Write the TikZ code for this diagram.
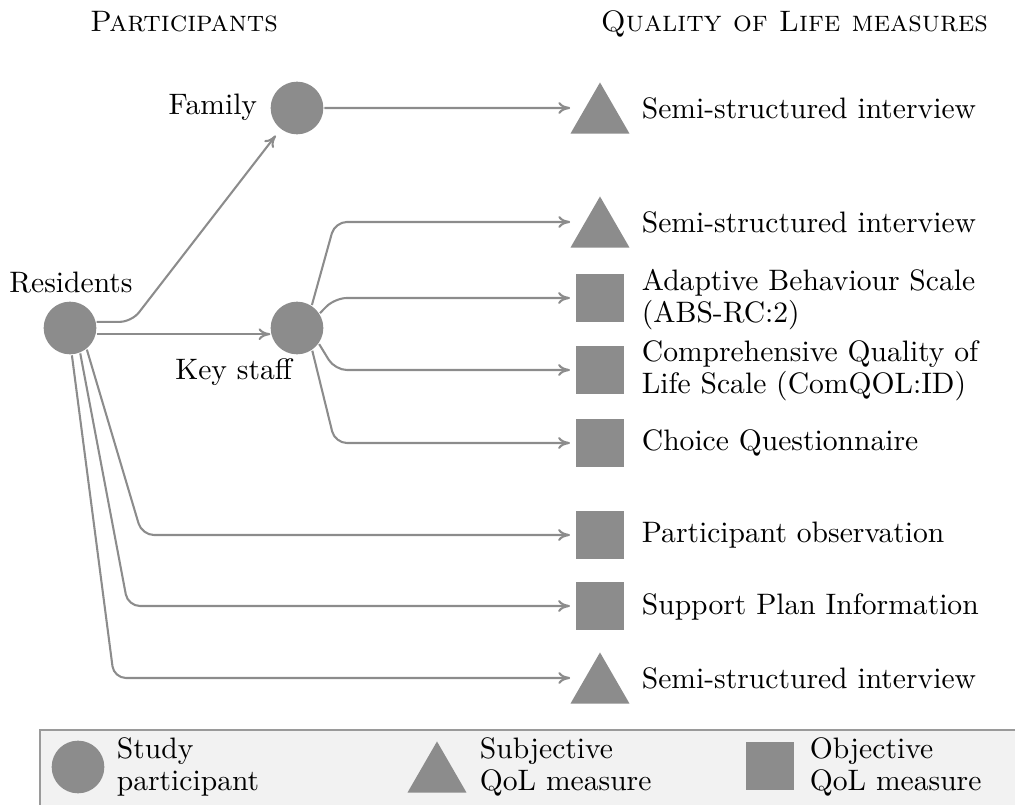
\documentclass[tikz,border=0pt]{standalone}
\usetikzlibrary{shapes.geometric,arrows.meta,calc}

\definecolor{qgray}{HTML}{8C8C8C}
\definecolor{boxfill}{HTML}{F2F2F2}
\definecolor{boxline}{HTML}{9A9A9A}

\tikzstyle{person} = [circle, fill=qgray, draw=none, minimum size=17.8pt, inner sep=0pt]
\tikzstyle{objm} = [rectangle, fill=qgray, draw=none, minimum size=15.9pt, inner sep=0pt, outer sep=2.2pt]
\tikzstyle{subjm} = [regular polygon, regular polygon sides=3, fill=qgray, draw=none, minimum size=23pt, inner sep=0pt, outer sep=0pt, yshift=-2.87pt]
\tikzstyle{txt} = [anchor=west, align=left, font=\linespread{0.9}\selectfont]

\begin{document}
\begin{tikzpicture}[x=0.338pt,y=-0.338pt,line width=0.7pt]
\tikzstyle{link}=[draw=qgray, -{To[length=4pt,width=4pt]}, rounded corners=4pt]
\tikzstyle{linkt}=[link, shorten >=5.1pt]
\useasboundingbox (0,0) rectangle (1015,805);

\node[anchor=base] (hp) at (184,32) {\textsc{Participants}};
\node[anchor=base west] (hq) at (590,32) {\textsc{Quality of Life measures}};

% participants
\node[person] (res) at (70,328) {};
\node (reslab) at (71,283) {Residents};
\node[person] (fam) at (297,108) {};
\node[anchor=east] (famlab) at (268,107) {Family};
\node[person] (ks) at (297,328) {};
\node[anchor=east] (kslab) at (303,372) {Key staff};

% measures
\node[subjm] (m1) at (600,108) {};
\node[txt] (t1) at (631,108) {Semi-structured interview};
\node[subjm] (m2) at (600,222) {};
\node[txt] (t2) at (631,222) {Semi-structured interview};
\node[objm] (m3) at (600,298) {};
\node[txt] (t3) at (631,300) {Adaptive Behaviour Scale\\(ABS-RC:2)};
\node[objm] (m4) at (600,370) {};
\node[txt] (t4) at (631,371) {Comprehensive Quality of\\Life Scale (ComQOL:ID)};
\node[objm] (m5) at (600,443) {};
\node[txt] (t5) at (631,443) {Choice Questionnaire};
\node[objm] (m6) at (600,535) {};
\node[txt] (t6) at (631,535) {Participant observation};
\node[objm] (m7) at (600,606) {};
\node[txt] (t7) at (631,607) {Support Plan Information};
\node[subjm] (m8) at (600,678) {};
\node[txt] (t8) at (631,678) {Semi-structured interview};

\coordinate (ksx) at (335,0);
\coordinate (c6) at (142,0);
\coordinate (c7) at (128,0);
\coordinate (c8) at (114,0);

\draw[link, shorten >=2.5pt] (res.13) -- ++(35,0) -- (fam);
\draw[link] (res.-13) -- (ks.193);
\draw[linkt] (fam) -- (m1.side 1);

\draw[linkt] (ks.57) -- (ksx |- m2.side 1) -- (m2.side 1);
\draw[link] (ks.33) -- (ksx |- m3.west) -- (m3.west);
\draw[link] (ks.-36) -- (ksx |- m4.west) -- (m4.west);
\draw[link] (ks.-56) -- (ksx |- m5.west) -- (m5.west);

\draw[link] (res.-52) -- (c6 |- m6.west) -- (m6.west);
\draw[link] (res.-68) -- (c7 |- m7.west) -- (m7.west);
\draw[linkt] (res.-86) -- (c8 |- m8.side 1) -- (m8.side 1);

% legend
\fill[boxfill] (40,730) rectangle (1015,805);
\draw[boxline] (1015,730) -- (40,730) -- (40,805);
\node[person] (lp) at (78,767) {};
\node[txt] (lpt) at (106,767) {Study\\participant};
\node[subjm] (ls) at (437,767) {};
\node[txt] (lst) at (469,767) {Subjective\\QoL measure};
\node[objm] (lo) at (770,766) {};
\node[txt] (lot) at (799,767) {Objective\\QoL measure};

\end{tikzpicture}
\end{document}
